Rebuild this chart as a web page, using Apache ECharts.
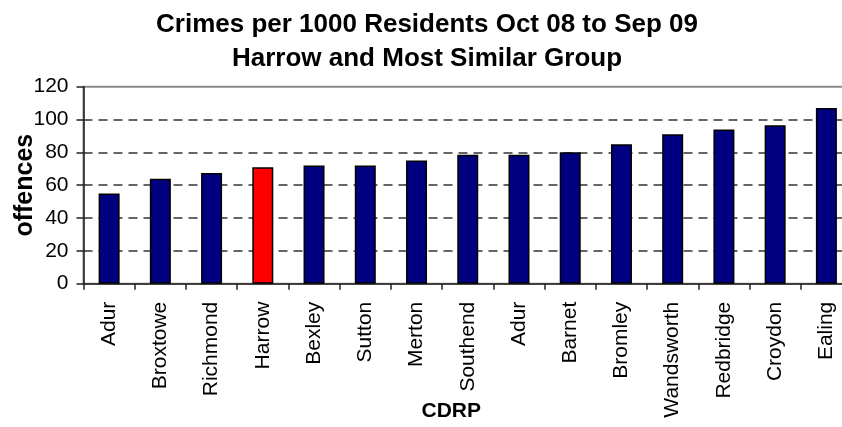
<!DOCTYPE html>
<html>
<head>
<meta charset="utf-8">
<script src="https://cdn.jsdelivr.net/npm/echarts@6/dist/echarts.min.js"></script>
<style>
html,body{margin:0;padding:0;background:#fff;}
#chart{width:842px;height:427px;}
</style>
</head>
<body>
<div id="chart"></div>
<script>
// ---- data ----
const categories = ['Adur','Broxtowe','Richmond','Harrow','Bexley','Sutton','Merton','Southend','Adur','Barnet','Bromley','Wandsworth','Redbridge','Croydon','Ealing'];
const offences = [55, 64, 67.5, 71, 72, 72, 75, 78.5, 78.5, 80, 85, 91, 94, 96.5, 107];
const highlightIndex = 3; // Harrow
const yTicks = {min: 0, max: 120, interval: 20};
const titleLines = ['Crimes per 1000 Residents Oct 08 to Sep 09', 'Harrow and Most Similar Group'];
const xName = 'CDRP';
const yName = 'offences';

const FONT = '"Liberation Sans", Arial, sans-serif';
const chart = echarts.init(document.getElementById('chart'), null, {renderer: 'canvas'});

const seriesData = offences.map((v, i) => i === highlightIndex
  ? {value: v, itemStyle: {color: '#FF0000'}}
  : v);

chart.setOption({
  animation: false,
  backgroundColor: '#ffffff',
  title: {
    text: titleLines.join('\n'),
    left: 427,
    top: 8,
    padding: 0,
    textAlign: 'center',
    textStyle: {fontFamily: FONT, fontWeight: 'bold', fontSize: 26, lineHeight: 34, color: '#000', align: 'center'}
  },
  grid: {
    left: 83.5, right: -10, top: 86.7, bottom: 143.3,
    containLabel: false,
    outerBoundsMode: 'none',
    show: true, borderColor: '#8a8a8a', borderWidth: 2, backgroundColor: 'transparent'
  },
  xAxis: {
    type: 'category',
    data: categories,
    name: xName,
    nameLocation: 'middle',
    nameGap: 117,
    nameMoveOverlap: false,
    nameTextStyle: {fontFamily: FONT, fontWeight: 'bold', fontSize: 21, color: '#000', padding: [0, 33, 0, 0]},
    axisLine: {lineStyle: {color: '#222', width: 1.5}},
    axisTick: {show: true, interval: 0, length: 6, alignWithLabel: false, lineStyle: {color: '#222', width: 1.5}},
    axisLabel: {interval: 0, rotate: 90, margin: 18, fontFamily: FONT, fontSize: 21, color: '#000'},
    splitLine: {show: false}
  },
  yAxis: {
    type: 'value',
    min: yTicks.min, max: yTicks.max, interval: yTicks.interval,
    name: yName,
    nameLocation: 'middle',
    nameRotate: 90,
    nameGap: 46,
    nameMoveOverlap: false,
    nameTextStyle: {fontFamily: FONT, fontWeight: 'bold', fontSize: 25, color: '#000'},
    axisLine: {show: true, lineStyle: {color: '#222', width: 1.5}},
    axisTick: {show: true, length: 7, lineStyle: {color: '#222', width: 1.5}},
    axisLabel: {margin: 15, fontFamily: FONT, fontSize: 21, color: '#000'},
    splitLine: {show: true, showMinLine: false, showMaxLine: false, lineStyle: {color: '#333', width: 1.5, type: [9, 6]}}
  },
  series: [{
    type: 'bar',
    data: seriesData,
    barWidth: 21,
    itemStyle: {color: '#000080', borderColor: '#000', borderWidth: 1.5},
    emphasis: {disabled: true}
  }]
});
</script>
</body>
</html>
